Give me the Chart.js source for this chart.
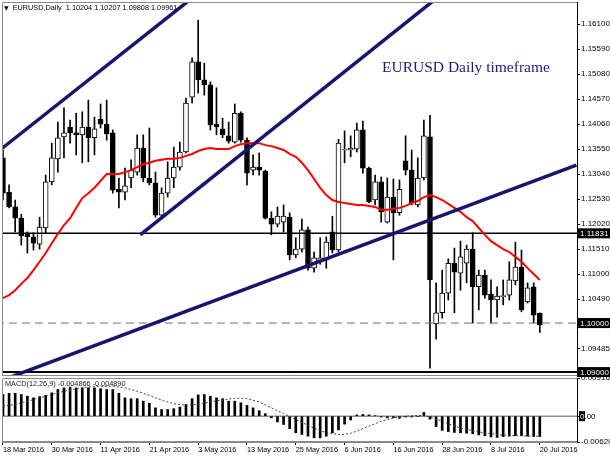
<!DOCTYPE html>
<html><head><meta charset="utf-8">
<script src="https://cdn.jsdelivr.net/npm/chart.js@4.4.1/dist/chart.umd.min.js"></script>
<style>
html,body{margin:0;padding:0;background:#fff;}
#wrap{position:relative;width:610px;height:457px;overflow:hidden;background:#fff;}
#c1{position:absolute;left:0;top:0;}
#c2{position:absolute;left:0;top:368px;}
.lbl{position:absolute;white-space:pre;font-family:"Liberation Sans",Arial,sans-serif;color:#000;}
</style></head><body>
<div id="wrap">
<canvas id="c1" width="610" height="378"></canvas>
<canvas id="c2" width="610" height="89"></canvas>
<div class="lbl" style="left:4px;top:3px;font-size:7.3px;line-height:10px;"><span style="font-size:6px;font-family:'DejaVu Sans'">▼</span>  EURUSD,Daily  1.10204 1.10207 1.09808 1.09961</div>
<div class="lbl" style="left:382px;top:57px;font-family:'Liberation Serif',serif;font-size:15.5px;line-height:20px;color:#1c1c7a;">EURUSD Daily timeframe</div>
<div class="lbl" style="left:5px;top:379px;font-size:7.3px;line-height:10px;color:#222;">MACD(12,26,9) -0.004866 -0.004890</div>
</div>
<script>
// ---- data ----
const open = [1.1337,1.1267,1.1237,1.1214,1.1182,1.1176,1.1161,1.1194,1.1288,1.1335,
1.1380,1.1400,1.1388,1.1384,1.1400,1.1378,1.1416,1.1406,1.1388,1.1273,
1.1267,1.1296,1.1308,1.1357,1.1296,1.1286,1.1220,1.1265,1.1296,1.1318,
1.1349,1.1461,1.1533,1.1496,1.1486,1.1406,1.1396,1.1382,1.1369,1.1428,
1.1373,1.1312,1.1318,1.1310,1.1214,1.1202,1.1206,1.1216,1.1139,1.1151,
1.1190,1.1112,1.1125,1.1129,1.1186,1.1149,1.1353,1.1353,1.1355,1.1394,
1.1316,1.1251,1.1288,1.1206,1.1257,1.1225,1.1331,1.1312,1.1241,1.1296,
1.1380,1.0998,1.1021,1.1061,1.1122,1.1102,1.1122,1.1151,1.1074,1.1098,
1.1059,1.1047,1.1054,1.1057,1.1086,1.1114,1.1043,1.1074,1.10204];
const high = [1.1353,1.1282,1.1251,1.1222,1.1186,1.1184,1.1216,1.1302,1.1367,1.1410,
1.1439,1.1414,1.1428,1.1431,1.1455,1.1420,1.1447,1.1455,1.1394,1.1296,
1.1316,1.1333,1.1384,1.1384,1.1398,1.1308,1.1276,1.1329,1.1359,1.1369,
1.1459,1.1541,1.1618,1.1530,1.1492,1.1480,1.1418,1.1410,1.1447,1.1431,
1.1378,1.1343,1.1347,1.1312,1.1227,1.1237,1.1241,1.1225,1.1174,1.1212,
1.1196,1.1145,1.1174,1.1176,1.1218,1.1375,1.1392,1.1382,1.1408,1.1412,
1.1318,1.1302,1.1298,1.1296,1.1294,1.1292,1.1382,1.1353,1.1337,1.1414,
1.1424,1.1082,1.1108,1.1131,1.1153,1.1167,1.1159,1.1184,1.1108,1.1108,
1.1088,1.1074,1.1088,1.1125,1.1165,1.1149,1.1082,1.1082,1.10207];
const low = [1.1251,1.1235,1.1186,1.1159,1.1143,1.1149,1.1151,1.1184,1.1282,1.1308,
1.1337,1.1367,1.1343,1.1327,1.1329,1.1343,1.1398,1.1373,1.1265,1.1235,
1.1251,1.1276,1.1302,1.1288,1.1282,1.1216,1.1214,1.1257,1.1276,1.1312,
1.1347,1.1449,1.1469,1.1465,1.1394,1.1384,1.1378,1.1367,1.1367,1.1369,
1.1282,1.1302,1.1302,1.1212,1.1180,1.1196,1.1186,1.1129,1.1133,1.1145,
1.1108,1.1104,1.1120,1.1112,1.1143,1.1145,1.1327,1.1339,1.1349,1.1306,
1.1245,1.1241,1.1206,1.1204,1.1129,1.1220,1.1302,1.1241,1.1237,1.1292,
1.0908,1.0967,1.1010,1.1047,1.1021,1.1067,1.1082,1.1000,1.1027,1.1051,
1.1000,1.1012,1.1037,1.1047,1.1078,1.1023,1.1041,1.1000,1.09808];
const close = [1.1265,1.1237,1.1214,1.1178,1.1176,1.1163,1.1196,1.1288,1.1337,1.1378,
1.1388,1.1388,1.1384,1.1400,1.1378,1.1396,1.1406,1.1386,1.1271,1.1267,
1.1280,1.1312,1.1357,1.1296,1.1286,1.1220,1.1265,1.1296,1.1318,1.1349,
1.1449,1.1533,1.1496,1.1486,1.1404,1.1400,1.1384,1.1371,1.1428,1.1373,
1.1306,1.1318,1.1312,1.1214,1.1202,1.1218,1.1218,1.1139,1.1151,1.1190,
1.1112,1.1133,1.1133,1.1165,1.1149,1.1367,1.1355,1.1357,1.1394,1.1316,
1.1247,1.1288,1.1227,1.1257,1.1225,1.1273,1.1312,1.1245,1.1296,1.1382,
1.1088,1.1021,1.1061,1.1122,1.1104,1.1135,1.1151,1.1074,1.1098,1.1057,
1.1047,1.1055,1.1055,1.1088,1.1114,1.1027,1.1072,1.1016,1.09961];
const ma20 = [1.1051,1.1057,1.1067,1.1080,1.1092,1.1108,1.1125,1.1143,1.1163,1.1182,
1.1200,1.1214,1.1235,1.1255,1.1265,1.1276,1.1290,1.1304,1.1304,1.1304,
1.1308,1.1312,1.1318,1.1324,1.1327,1.1331,1.1333,1.1335,1.1335,1.1337,
1.1341,1.1345,1.1351,1.1355,1.1357,1.1355,1.1355,1.1355,1.1361,1.1365,
1.1367,1.1367,1.1367,1.1363,1.1361,1.1357,1.1353,1.1345,1.1339,1.1327,
1.1312,1.1294,1.1276,1.1261,1.1251,1.1247,1.1245,1.1243,1.1241,1.1241,
1.1239,1.1237,1.1231,1.1231,1.1233,1.1235,1.1239,1.1245,1.1249,1.1257,
1.1261,1.1257,1.1251,1.1243,1.1235,1.1227,1.1216,1.1208,1.1194,1.1180,
1.1167,1.1159,1.1151,1.1145,1.1135,1.1125,1.1112,1.1100,1.1088];
const macdMain = [0.0052,0.0055,0.0055,0.0052,0.0048,0.0044,0.0047,0.0050,0.0056,0.0064,
0.0068,0.0070,0.0068,0.0068,0.0068,0.0068,0.0066,0.0064,0.0064,0.0055,
0.0044,0.0042,0.0042,0.0036,0.0031,0.0020,0.0016,0.0016,0.0018,0.0022,
0.0028,0.0042,0.0051,0.0052,0.0048,0.0044,0.0042,0.0036,0.0036,0.0032,
0.0026,0.0020,0.0013,0.0006,-0.0004,-0.0014,-0.0020,-0.0030,-0.0040,-0.0044,
-0.0048,-0.0052,-0.0052,-0.0048,-0.0040,-0.0033,-0.0019,-0.0009,0.0003,0.0004,
0.0003,0.0001,-0.0002,-0.0004,-0.0004,-0.0005,-0.0002,-0.0002,-0.0001,0.0009,
-0.0007,-0.0025,-0.0034,-0.0037,-0.0039,-0.0040,-0.0041,-0.0042,-0.0045,-0.0047,
-0.0050,-0.0051,-0.0049,-0.0048,-0.0047,-0.0047,-0.0048,-0.0049,-0.0049];
const macdSignal = [0.0024,0.0026,0.0028,0.0032,0.0036,0.0040,0.0044,0.0048,0.0052,0.0056,
0.0060,0.0063,0.0066,0.0068,0.0070,0.0071,0.0072,0.0072,0.0072,0.0070,
0.0068,0.0064,0.0060,0.0055,0.0050,0.0044,0.0039,0.0034,0.0030,0.0028,
0.0026,0.0027,0.0028,0.0031,0.0034,0.0037,0.0039,0.0041,0.0043,0.0043,
0.0042,0.0038,0.0034,0.0027,0.0020,0.0013,0.0006,-0.0001,-0.0008,-0.0015,
-0.0022,-0.0029,-0.0035,-0.0039,-0.0042,-0.0044,-0.0044,-0.0041,-0.0036,-0.0030,
-0.0024,-0.0018,-0.0012,-0.0008,-0.0004,-0.0002,0.0000,0.0001,0.0002,0.0001,
-0.0002,-0.0007,-0.0012,-0.0018,-0.0024,-0.0028,-0.0032,-0.0035,-0.0038,-0.0040,
-0.0042,-0.0044,-0.0046,-0.0046,-0.0047,-0.0047,-0.0048,-0.0048,-0.0048];
const priceTicks = [1.16100,1.15590,1.15080,1.14570,1.14060,1.13550,1.13040,1.12530,1.12020,1.11510,1.11000,1.10490,1.09485];
const macdTicks = [0.009169,0,-0.006204];
const dateLabels = ["18 Mar 2016","30 Mar 2016","11 Apr 2016","21 Apr 2016","3 May 2016","13 May 2016","25 May 2016","6 Jun 2016","16 Jun 2016","28 Jun 2016","8 Jul 2016","20 Jul 2016"];
const dateBars = [0,8,16,24,32,40,48,56,64,72,80,88];
const levels = [1.11831,1.10000,1.09000];
const trendUpper = [{bar:-0.5,price:1.1353},{bar:31,price:1.1663}];
const trendLower = [{bar:22.5,price:1.1180},{bar:71,price:1.1662}];
const trendSupport = [{bar:0,price:1.0884},{bar:94,price:1.1322}];

// ---- rendering ----
const bars = open.map((_, i) => i);
const XMIN = -0.16, XMAX = 94.1;
const FONT = 'Liberation Sans';
const levelStyle = [
  {color:'#000', width:1.5, dash:[]},
  {color:'#707070', width:1, dash:[8,5]},
  {color:'#000', width:2, dash:[]}
];
const navy = '#16166e';
const trendDs = (pts) => ({type:'line', data: pts.map(p=>({x:p.bar,y:p.price})), borderColor:navy, borderWidth:3.5, pointRadius:0, clip:0, order:0});

const framePlugin = {
  id:'frame',
  afterDraw(chart){
    const a = chart.chartArea, ctx = chart.ctx;
    ctx.save();
    ctx.strokeStyle = '#8a8a8a'; ctx.lineWidth = 1;
    ctx.beginPath();
    ctx.moveTo(a.left+0.5, a.bottom); ctx.lineTo(a.left+0.5, a.top+0.5); ctx.lineTo(a.right, a.top+0.5);
    ctx.moveTo(a.left, a.bottom-0.5); ctx.lineTo(a.right, a.bottom-0.5);
    ctx.stroke();
    ctx.restore();
  }
};

const levelBoxPlugin = {
  id:'levelBoxes',
  afterDraw(chart){
    const ys = chart.scales.y, ctx = chart.ctx, a = chart.chartArea;
    ctx.save();
    ctx.font = '8px "' + FONT + '"';
    ctx.textBaseline = 'middle';
    levels.forEach(lv => {
      const y = ys.getPixelForValue(lv);
      ctx.fillStyle = '#000';
      ctx.fillRect(a.right+1, y-5, 32, 10);
      ctx.fillStyle = '#fff';
      ctx.fillText(lv.toFixed(5), a.right+3, y+0.5);
    });
    ctx.restore();
  }
};

new Chart(document.getElementById('c1'), {
  type:'bar',
  data:{datasets:[
    {type:'bar', data: bars.map(i=>({x:i,y:[low[i],high[i]]})), backgroundColor:'#000', barThickness:1, grouped:false, order:6},
    {type:'bar', data: bars.map(i=>({x:i,y:[open[i],close[i]]})), backgroundColor: bars.map(i=>close[i]>=open[i]?'#fff':'#000'), borderColor:'#000', borderWidth:1, borderSkipped:false, barThickness:5, grouped:false, minBarLength:1, order:5},
    ...levels.map((lv,k)=>({type:'line', data:[{x:XMIN-1,y:lv},{x:XMAX+1,y:lv}], borderColor:levelStyle[k].color, borderWidth:levelStyle[k].width, borderDash:levelStyle[k].dash, pointRadius:0, clip:0, order:4})),
    {type:'line', data: bars.map(i=>({x:i,y:ma20[i]})), borderColor:'#ff0000', borderWidth:2, pointRadius:0, clip:0, order:2},
    trendDs(trendUpper), trendDs(trendLower), trendDs(trendSupport)
  ]},
  options:{
    responsive:false, animation:false, devicePixelRatio:1,
    layout:{padding:{left:2,top:2,right:0,bottom:2}},
    plugins:{legend:{display:false}, tooltip:{enabled:false}},
    scales:{
      x:{type:'linear', min:XMIN, max:XMAX, offset:false, display:false, grid:{offset:false}},
      y:{position:'right', min:1.0892, max:1.1655,
        afterFit(s){ s.width = 33; s.paddingTop = 0; s.paddingBottom = 0; },
        afterBuildTicks(s){ s.ticks = priceTicks.map(v=>({value:v})); },
        ticks:{callback:v=>Number(v).toFixed(5), font:{family:FONT,size:8}, color:'#000', padding:1},
        grid:{drawOnChartArea:false, drawTicks:true, tickLength:3, color:'#000'},
        border:{display:true, color:'#000'}
      }
    }
  },
  plugins:[framePlugin, levelBoxPlugin]
});

const zeroBoxPlugin = {
  id:'zeroBox',
  afterDraw(chart){
    const ys = chart.scales.y, ctx = chart.ctx, a = chart.chartArea;
    const y = ys.getPixelForValue(0);
    ctx.save();
    ctx.font = '8px "' + FONT + '"';
    ctx.textBaseline = 'middle';
    ctx.fillStyle = '#000';
    ctx.fillRect(a.right+2, y-5, 6, 10);
    ctx.fillStyle = '#fff';
    ctx.fillText('0', a.right+3, y+0.5);
    ctx.fillStyle = '#000';
    ctx.fillText('.00', a.right+3+ctx.measureText('0').width, y+0.5);
    ctx.restore();
  }
};

new Chart(document.getElementById('c2'), {
  type:'bar',
  data:{datasets:[
    {type:'line', data:[{x:XMIN-1,y:0},{x:XMAX+1,y:0}], borderColor:'#555', borderWidth:1, pointRadius:0, clip:0, order:3},
    {type:'bar', data: bars.map(i=>({x:i,y:macdMain[i]})), backgroundColor:'#000', barThickness:2, grouped:false, order:2},
    {type:'line', data: bars.map(i=>({x:i,y:macdSignal[i]})), borderColor:'#444', borderWidth:1, borderDash:[2,2], pointRadius:0, order:1}
  ]},
  options:{
    responsive:false, animation:false, devicePixelRatio:1,
    layout:{padding:{left:2,top:10,right:0,bottom:0}},
    plugins:{legend:{display:false}, tooltip:{enabled:false}},
    scales:{
      x:{type:'linear', min:XMIN, max:XMAX, offset:false,
        afterFit(s){ s.height = 15; s.paddingLeft = 0; s.paddingRight = 0; },
        afterBuildTicks(s){ s.ticks = dateBars.map(v=>({value:v})); },
        ticks:{autoSkip:false, maxRotation:0, minRotation:0, align:'start', callback:v=>dateLabels[dateBars.indexOf(v)], font:{family:FONT,size:7.3}, color:'#000', padding:1},
        grid:{drawOnChartArea:false, drawTicks:true, tickLength:3, color:'#000', offset:false},
        border:{display:true, color:'#8a8a8a'}
      },
      y:{position:'right', min:-0.006204, max:0.009169,
        afterFit(s){ s.width = 33; s.paddingTop = 0; s.paddingBottom = 0; },
        afterBuildTicks(s){ s.ticks = macdTicks.map(v=>({value:v})); },
        ticks:{callback:v=> v===0 ? '' : Number(v).toFixed(6), font:{family:FONT,size:8}, color:'#000', padding:1},
        grid:{drawOnChartArea:false, drawTicks:true, tickLength:3, color:'#000'},
        border:{display:true, color:'#000'}
      }
    }
  },
  plugins:[framePlugin, zeroBoxPlugin]
});
</script>
</body></html>
